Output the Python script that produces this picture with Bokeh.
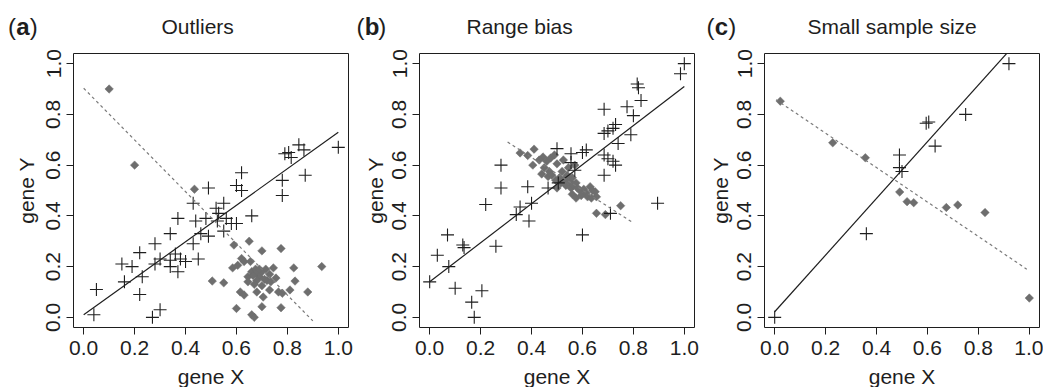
import numpy as np
from bokeh.plotting import figure
from bokeh.layouts import row, column
from bokeh.models import FixedTicker, NumeralTickFormatter, Range1d
from bokeh.embed import file_html
from bokeh.resources import INLINE
from bokeh.core.properties import value

# ---------------- data ----------------
ticks = [0.0, 0.2, 0.4, 0.6, 0.8, 1.0]

# (a) Outliers
a_cross_x = [0.04, 0.05, 0.16, 0.15, 0.19, 0.22, 0.23, 0.22, 0.27, 0.30, 0.28, 0.28, 0.30, 0.34,
             0.34, 0.34, 0.37, 0.36, 0.37, 0.38, 0.40, 0.43, 0.45, 0.44, 0.43, 0.46, 0.49, 0.48,
             0.49, 0.52, 0.53, 0.525, 0.55, 0.56, 0.55, 0.58, 0.60, 0.60, 0.62, 0.62, 0.66, 0.78,
             0.78, 0.79, 0.805, 0.815, 0.845, 0.865, 0.87, 1.00]
a_cross_y = [0.01, 0.11, 0.14, 0.21, 0.20, 0.09, 0.16, 0.255, 0.00, 0.03, 0.29, 0.21, 0.23, 0.33,
             0.225, 0.20, 0.39, 0.25, 0.18, 0.23, 0.22, 0.29, 0.23, 0.38, 0.45, 0.33, 0.32, 0.39,
             0.51, 0.43, 0.41, 0.38, 0.45, 0.39, 0.34, 0.37, 0.37, 0.52, 0.50, 0.57, 0.40, 0.54,
             0.48, 0.645, 0.65, 0.63, 0.68, 0.66, 0.56, 0.67]
a_dia_x = [0.10, 0.20, 0.435, 0.505, 0.55, 0.59, 0.65, 0.70, 0.775, 0.585, 0.605, 0.62, 0.63,
           0.655, 0.645, 0.66, 0.675, 0.685, 0.69, 0.68, 0.70, 0.715, 0.73, 0.745, 0.72, 0.735,
           0.67, 0.70, 0.755, 0.645, 0.83, 0.825, 0.935, 0.615, 0.63, 0.68, 0.705, 0.73, 0.765,
           0.78, 0.81, 0.88, 0.60, 0.70, 0.775, 0.66, 0.67, 0.69, 0.71, 0.665]
a_dia_y = [0.90, 0.60, 0.505, 0.143, 0.136, 0.285, 0.30, 0.262, 0.271, 0.195, 0.205, 0.232, 0.22,
           0.22, 0.16, 0.18, 0.19, 0.175, 0.16, 0.145, 0.18, 0.19, 0.17, 0.195, 0.145, 0.14,
           0.13, 0.125, 0.155, 0.14, 0.143, 0.195, 0.20, 0.10, 0.088, 0.10, 0.08, 0.108, 0.10,
           0.095, 0.108, 0.10, 0.035, 0.042, 0.038, 0.01, 0.0, 0.19, 0.15, 0.165]
a_fit_x = [0.0, 1.0]
a_fit_y = [0.01, 0.73]
a_dfit_x = [0.0, 0.90]
a_dfit_y = [0.903, -0.014]

# (b) Range bias
b_cross_x = [0.00, 0.03, 0.07, 0.075, 0.10, 0.13, 0.135, 0.165, 0.175, 0.205, 0.22, 0.26, 0.28,
             0.28, 0.34, 0.355, 0.385, 0.39, 0.40, 0.465, 0.50, 0.505, 0.555, 0.555, 0.57, 0.60,
             0.615, 0.60, 0.685, 0.685, 0.70, 0.72, 0.73, 0.685, 0.685, 0.70, 0.72, 0.73, 0.74,
             0.71, 0.775, 0.80, 0.79, 0.815, 0.82, 0.83, 0.895, 0.985, 1.00]
b_cross_y = [0.14, 0.245, 0.325, 0.20, 0.115, 0.285, 0.275, 0.06, 0.0, 0.105, 0.445, 0.28, 0.51,
             0.60, 0.405, 0.435, 0.515, 0.38, 0.45, 0.51, 0.665, 0.53, 0.645, 0.61, 0.58, 0.65,
             0.66, 0.325, 0.82, 0.64, 0.625, 0.615, 0.60, 0.56, 0.725, 0.735, 0.745, 0.76, 0.685,
             0.41, 0.83, 0.795, 0.72, 0.92, 0.905, 0.855, 0.45, 0.96, 1.00]
b_dia_x = [0.355, 0.385, 0.41, 0.405, 0.445, 0.43, 0.46, 0.475, 0.49, 0.50, 0.525, 0.45, 0.47,
           0.44, 0.465, 0.48, 0.495, 0.51, 0.52, 0.50, 0.515, 0.53, 0.54, 0.535, 0.55, 0.56,
           0.555, 0.565, 0.575, 0.58, 0.59, 0.56, 0.575, 0.595, 0.605, 0.615, 0.62, 0.63, 0.64,
           0.65, 0.655, 0.635, 0.57, 0.545, 0.655, 0.69, 0.75]
b_dia_y = [0.648, 0.638, 0.663, 0.60, 0.632, 0.62, 0.615, 0.628, 0.64, 0.605, 0.62, 0.59, 0.575,
           0.565, 0.555, 0.56, 0.54, 0.55, 0.575, 0.51, 0.53, 0.545, 0.56, 0.52, 0.535, 0.55,
           0.51, 0.52, 0.53, 0.51, 0.50, 0.485, 0.47, 0.48, 0.505, 0.49, 0.475, 0.515, 0.50,
           0.495, 0.475, 0.47, 0.60, 0.59, 0.41, 0.405, 0.44]
b_fit_x = [0.0, 1.0]
b_fit_y = [0.14, 0.91]
b_dfit_x = [0.306, 0.80]
b_dfit_y = [0.691, 0.372]

# (c) Small sample size
c_cross_x = [0.0, 0.36, 0.49, 0.49, 0.50, 0.595, 0.605, 0.63, 0.75, 0.92]
c_cross_y = [0.0, 0.33, 0.64, 0.59, 0.575, 0.765, 0.77, 0.675, 0.80, 1.00]
c_dia_x = [0.022, 0.228, 0.356, 0.491, 0.52, 0.546, 0.674, 0.719, 0.826, 1.0]
c_dia_y = [0.852, 0.688, 0.629, 0.494, 0.456, 0.452, 0.433, 0.443, 0.413, 0.076]
c_fit_x = [0.0, 0.92]
c_fit_y = [0.022, 1.05]
c_dfit_x = [0.005, 0.99]
c_dfit_y = [0.858, 0.19]

titles = ["Outliers", "Range bias", "Small sample size"]
letters = ["a", "b", "c"]
x_label = "gene X"
y_label = "gene Y"

FONT = "Liberation Sans"
INK = "#1e1e1e"
GREY = "#6e6e6e"

PAGE_W = 1043
HEAD_H = 45
FOOT_H = 22
FRAME = 275
FRAME_H = 274


def blank(width, height):
    f = figure(width=width, height=height, x_range=Range1d(0, width), y_range=Range1d(height, 0),
               title=None, output_backend="svg", toolbar_location=None,
               x_axis_location=None, y_axis_location=None,
               min_border_left=0, min_border_right=0, min_border_top=0, min_border_bottom=0)
    f.grid.visible = False
    f.outline_line_color = None
    return f


def panel(cx, cy, dx, dy, fx, fy, gx, gy, border_left, border_right, ylab_standoff):
    p = figure(frame_width=FRAME, frame_height=FRAME_H, x_range=(-0.04, 1.04), y_range=(-0.04, 1.04),
               title=None, output_backend="svg", toolbar_location=None,
               min_border_left=border_left, min_border_right=border_right,
               min_border_top=8, min_border_bottom=38)
    p.grid.visible = False
    p.outline_line_color = INK
    p.outline_line_width = 1
    for ax in (p.xaxis[0], p.yaxis[0]):
        ax.ticker = FixedTicker(ticks=ticks)
        ax.formatter = NumeralTickFormatter(format="0.0")
        ax.axis_line_color = None
        ax.major_tick_out = 7
        ax.major_tick_in = 0
        ax.major_tick_line_color = INK
        ax.minor_tick_line_color = None
        ax.major_label_text_font = FONT
        ax.major_label_text_font_size = "21px"
        ax.major_label_text_color = INK
        ax.axis_label_text_font = FONT
        ax.axis_label_text_font_size = "21px"
        ax.axis_label_text_font_style = "normal"
        ax.axis_label_text_color = INK
    p.yaxis.axis_label = y_label
    p.xaxis.major_label_standoff = 6
    p.yaxis.major_label_orientation = "vertical"
    p.yaxis.major_label_standoff = 6
    p.yaxis.axis_label_standoff = ylab_standoff

    p.scatter(dx, dy, marker="square", angle=np.pi / 4, size=6, fill_color=GREY,
              line_color=GREY, line_width=0.5)
    p.scatter(cx, cy, marker="cross", size=13, line_color=INK, line_width=1.1)
    p.line(fx, fy, line_color=INK, line_width=1.2)
    p.line(gx, gy, line_color="#7a7a7a", line_width=1.2, line_dash="3 3")
    return p


# figure widths: left border + frame + right border
borders_left = [73, 65, 65]
borders_right = [6, 5, 4]
widths = [bl + FRAME + br for bl, br in zip(borders_left, borders_right)]
starts = [0, widths[0], widths[0] + widths[1]]

pa = panel(a_cross_x, a_cross_y, a_dia_x, a_dia_y, a_fit_x, a_fit_y, a_dfit_x, a_dfit_y,
           borders_left[0], borders_right[0], 6)
pb = panel(b_cross_x, b_cross_y, b_dia_x, b_dia_y, b_fit_x, b_fit_y, b_dfit_x, b_dfit_y,
           borders_left[1], borders_right[1], 3)
pc = panel(c_cross_x, c_cross_y, c_dia_x, c_dia_y, c_fit_x, c_fit_y, c_dfit_x, c_dfit_y,
           borders_left[2], borders_right[2], 3)

# header: panel letters and titles (page pixel positions; glyph text sits ~line-gap lower)
letter_left = [7.5, 356.0, 706.0]
title_left = [161.0, 466.0, 807.0]
LETTER_Y = 26.3
TITLE_Y = 25.5
head = blank(PAGE_W, HEAD_H)
fnt = value(FONT)
head.text(x=[lx for lx in letter_left], y=[LETTER_Y] * 3, text=["("] * 3, text_font=fnt,
          text_font_size="24px", text_color=INK, text_baseline="alphabetic", text_align="left")
head.text(x=[lx + 8.2 for lx in letter_left], y=[LETTER_Y] * 3, text=letters, text_font=fnt,
          text_font_size="24px", text_font_style="bold", text_color=INK,
          text_baseline="alphabetic", text_align="left")
head.text(x=[lx + 21.8 for lx in letter_left], y=[LETTER_Y] * 3, text=[")"] * 3, text_font=fnt,
          text_font_size="24px", text_color=INK, text_baseline="alphabetic", text_align="left")
head.text(x=title_left, y=[TITLE_Y] * 3, text=titles, text_font=fnt, text_font_size="21px",
          text_color=INK, text_baseline="alphabetic", text_align="left")

# footer: x-axis titles centred under each frame
foot = blank(PAGE_W, FOOT_H)
foot.text(x=[s + bl + FRAME / 2 for s, bl in zip(starts, borders_left)], y=[10.8] * 3,
          text=[x_label] * 3, text_font=fnt, text_font_size="21px", text_color=INK,
          text_baseline="alphabetic", text_align="center")

layout = column(head, row(pa, pb, pc, spacing=0), foot, spacing=0)
open("out.html", "w").write(file_html(layout, INLINE))
